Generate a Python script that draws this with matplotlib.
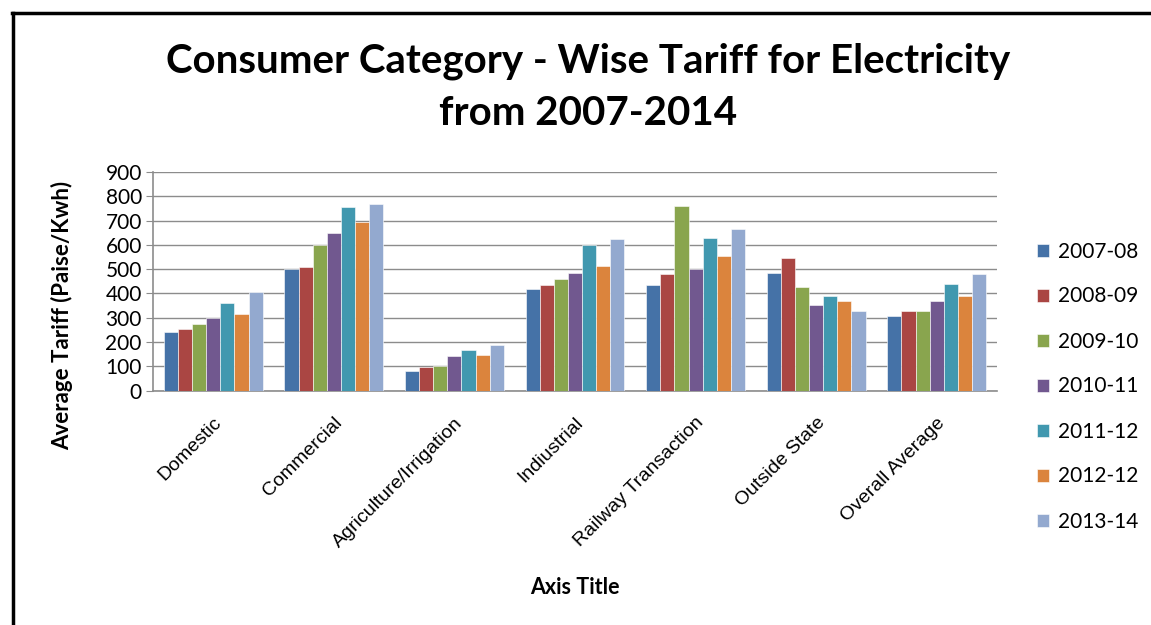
import numpy as np
import matplotlib.pyplot as plt
from matplotlib.lines import Line2D

# categories and yearly series (Paise/Kwh)
categories = ['Domestic', 'Commercial', 'Agriculture/Irrigation', 'Indiustrial',
              'Railway Transaction', 'Outside State', 'Overall Average']
years = ['2007-08', '2008-09', '2009-10', '2010-11', '2011-12', '2012-12', '2013-14']

y2007 = [242, 499, 79, 418, 437, 485, 307]
y2008 = [252, 510, 99, 433, 481, 548, 326]
y2009 = [273, 599, 101, 458, 762, 427, 330]
y2010 = [300, 647, 141, 485, 499, 351, 368]
y2011 = [359, 756, 166, 599, 630, 389, 441]
y2012 = [316, 695, 147, 515, 553, 368, 389]
y2013 = [408, 767, 186, 626, 666, 326, 481]
series = [y2007, y2008, y2009, y2010, y2011, y2012, y2013]

colors = ['#4572A7', '#AA4643', '#89A54E', '#71588F', '#4198AF', '#DB843D', '#93A9CF']

fig = plt.figure(figsize=(11.51, 6.25), dpi=100)
ax = fig.add_axes([0.1329, 0.3749, 0.7333, 0.3499])

x = np.arange(len(categories))
bw = 0.117
for i, vals in enumerate(series):
    ax.bar(x + (i - 3) * bw, vals, bw, color=colors[i], label=years[i],
           edgecolor='white', linewidth=0.4, zorder=3)

ax.set_xlim(-0.5, len(categories) - 0.5)
ax.set_ylim(0, 900)
ax.set_yticks(range(0, 901, 100))
ax.yaxis.grid(True, color='#8c8c8c', linewidth=1.0, zorder=0)
ax.set_axisbelow(True)

for s in ['top', 'right']:
    ax.spines[s].set_visible(False)
for s in ['left', 'bottom']:
    ax.spines[s].set_color('#8c8c8c')
    ax.spines[s].set_linewidth(1.2)

ax.tick_params(axis='y', length=5, color='#8c8c8c', labelsize=15, pad=3)
for lbl in ax.get_yticklabels():
    lbl.set_family('Lato')
ax.set_xticks(x)
ax.set_xticklabels(categories, rotation=45, ha='right', va='top',
                   rotation_mode='anchor', fontsize=14, family='Liberation Sans')
ax.tick_params(axis='x', length=0, pad=17)

# y label placed by hand to match the reference
fig.text(62 / 1151, 1 - 315 / 625, 'Average Tariff (Paise/Kwh)', fontsize=16,
         fontweight='bold', family='Lato', rotation=90, ha='center', va='center')
fig.text(575 / 1151, 1 - 587 / 625, 'Axis Title', fontsize=15.5, fontweight='bold',
         family='Lato', ha='center', va='center')

fig.text(588 / 1151, 1 - 87 / 625, 'Consumer Category - Wise Tariff for Electricity\nfrom 2007-2014',
         fontsize=29, fontweight='bold', family='Lato', ha='center', va='center',
         linespacing=1.5)

fig.legend(loc='center left', bbox_to_anchor=(1018 / 1151, 1 - 386.5 / 625),
           frameon=False, prop={'family': 'Lato', 'size': 15},
           handlelength=0.6, handleheight=0.6, handletextpad=0.4, labelspacing=1.2)

# outer frame (left and top edges)
fig.add_artist(Line2D([13 / 1151, 13 / 1151], [0, 1 - 13 / 625], color='black',
                      linewidth=2.5, transform=fig.transFigure))
fig.add_artist(Line2D([12 / 1151, 1], [1 - 13 / 625, 1 - 13 / 625], color='black',
                      linewidth=2.5, transform=fig.transFigure))

fig.savefig('out.png', dpi=100)
